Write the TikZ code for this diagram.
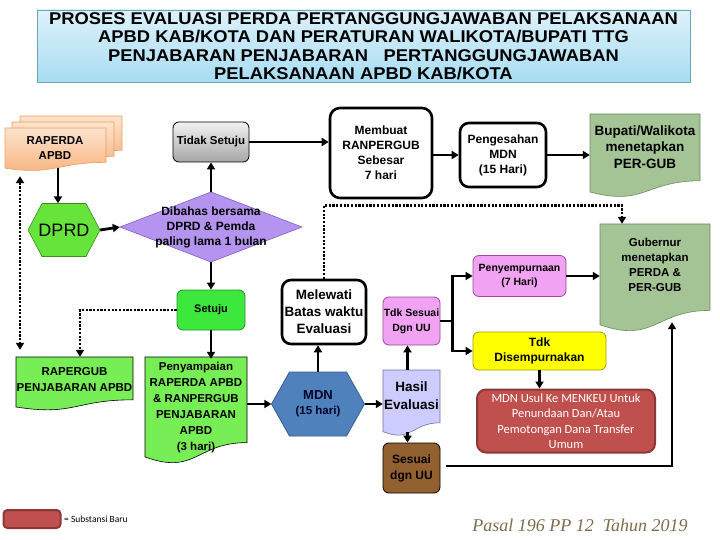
\documentclass[tikz,border=0pt]{standalone}
\usepackage{fontspec}
\setmainfont{Liberation Sans}
\newfontfamily\titlefont[FakeStretch=1.08]{Liberation Sans}
\newfontfamily\calib{Carlito}
\newfontfamily\serifit{Liberation Serif}
\usetikzlibrary{arrows.meta,calc}
\definecolor{titletop}{HTML}{DDF2FB}
\definecolor{titlebot}{HTML}{A8DCF2}
\definecolor{titleborder}{HTML}{6AA6B8}
\definecolor{peachA}{HTML}{FDE3CD}
\definecolor{peachB}{HTML}{F7B27C}
\definecolor{peachD}{HTML}{EE9E5E}
\definecolor{dprdgreen}{HTML}{66E43C}
\definecolor{dprdborder}{HTML}{3A8A20}
\definecolor{diafill}{HTML}{B494EE}
\definecolor{diaborder}{HTML}{7E5CC0}
\definecolor{greyA}{HTML}{F2F2F2}
\definecolor{greyB}{HTML}{A6A6A6}
\definecolor{setujugreen}{HTML}{3DE83D}
\definecolor{docgreen}{HTML}{77EE55}
\definecolor{greenborder}{HTML}{2A8A2A}
\definecolor{sage}{HTML}{A4C495}
\definecolor{sageborder}{HTML}{6E8A60}
\definecolor{mdnblue}{HTML}{4F81BD}
\definecolor{mdnborder}{HTML}{385D8A}
\definecolor{lav}{HTML}{CCCCFF}
\definecolor{lavborder}{HTML}{7070A0}
\definecolor{pinkv}{HTML}{F2A2F2}
\definecolor{pinkborder}{HTML}{9A4A9A}
\definecolor{yel}{HTML}{FFFF00}
\definecolor{yelborder}{HTML}{A0A000}
\definecolor{redfill}{HTML}{C0504D}
\definecolor{redborder}{HTML}{8C3836}
\definecolor{brown}{HTML}{93602F}
\definecolor{pasal}{HTML}{7D6B4D}
\newcommand\docshape[5]{%
  \path[#5] (#1,#2) -- (#3,#2) -- (#3,{#2+0.8*(#4-#2)})
    .. controls ({(#1+#3)/2},{#2+0.8*(#4-#2)}) and ({(#1+#3)/2},{#2+1.108*(#4-#2)})
    .. (#1,{#2+0.934*(#4-#2)}) -- cycle;}
\newcommand\hexshape[6]{%
  \path[#6] ({#1-#3/2},#2) -- ({#1-#3/2+#5},{#2-#4/2}) -- ({#1+#3/2-#5},{#2-#4/2})
    -- ({#1+#3/2},#2) -- ({#1+#3/2-#5},{#2+#4/2}) -- ({#1-#3/2+#5},{#2+#4/2}) -- cycle;}
\tikzset{
  arr/.style={line width=2.8pt, -{Triangle[length=7pt,width=8pt]}},
  dotarr/.style={line width=2.8pt, dash pattern=on 2.2pt off 1.5pt, -{Triangle[length=7pt,width=8pt]}},
  lbl/.style={align=center, inner sep=0pt, font=\bfseries\fontsize{12}{15}\selectfont},
  rbox/.style={lbl, draw, rounded corners=6pt, line width=0.8pt},
  thickbox/.style={lbl, draw, fill=white, rounded corners=10pt, line width=2.6pt},
}
\begin{document}
\begin{tikzpicture}[x=1pt,y=-1pt]
\useasboundingbox (0,0) rectangle (720,540);

% title
\node[draw=titleborder, top color=titletop, bottom color=titlebot, minimum width=653pt,
  minimum height=72pt, inner sep=0pt, align=center,
  font=\titlefont\bfseries\fontsize{17}{18.5}\selectfont] (title) at (363.5,46)
  {PROSES EVALUASI PERDA PERTANGGUNGJAWABAN PELAKSANAAN\\
   APBD KAB/KOTA DAN PERATURAN WALIKOTA/BUPATI TTG\\
   PENJABARAN PENJABARAN \ \ PERTANGGUNGJAWABAN\\
   PELAKSANAAN APBD KAB/KOTA};

% RAPERDA multi document
\docshape{20}{116}{122}{159}{draw=peachD, line width=0.6pt, top color=peachA, bottom color=peachB}
\docshape{12}{122}{114}{165}{draw=peachD, line width=0.6pt, top color=peachA, bottom color=peachB}
\docshape{5}{128}{106}{171}{draw=peachD, line width=0.6pt, top color=peachA, bottom color=peachB}
\node[lbl, font=\bfseries\fontsize{11.5}{15}\selectfont, minimum width=100pt, minimum height=40pt] (raperda) at (55,148) {RAPERDA\\APBD};

% DPRD hexagon
\hexshape{64}{230}{72}{53}{14}{fill=dprdgreen, draw=dprdborder, line width=0.6pt}
\node[inner sep=0pt, minimum width=72pt, minimum height=53pt, font=\fontsize{18}{20}\selectfont] (dprd) at (64,230) {DPRD};

% diamond
\path[fill=diafill, draw=diaborder, line width=0.6pt] (120,227) -- (211,192) -- (302,227) -- (211,262) -- cycle;
\node[lbl, minimum width=182pt, minimum height=70pt] (diam) at (211,227) {Dibahas bersama\\DPRD \& Pemda\\paling lama 1 bulan};

% Tidak Setuju
\node[rbox, top color=greyA, bottom color=greyB, minimum width=76pt, minimum height=40pt, font=\bfseries\fontsize{11.5}{14}\selectfont] (tidak) at (211,142) {Tidak Setuju};

% Membuat
\node[thickbox, minimum width=102pt, minimum height=90pt, font=\bfseries\fontsize{12}{15}\selectfont] (membuat) at (381,153) {Membuat\\RANPERGUB\\Sebesar\\7 hari};

% Pengesahan
\node[thickbox, rounded corners=9pt, minimum width=86pt, minimum height=64pt, font=\bfseries\fontsize{12}{15}\selectfont] (peng) at (503,155) {Pengesahan\\MDN\\(15 Hari)};

% Bupati
\docshape{590}{114}{700}{197.5}{fill=sage, draw=sageborder, line width=0.6pt}
\node[lbl, font=\bfseries\fontsize{13.5}{16.5}\selectfont, minimum width=110pt, minimum height=66pt] (bupati) at (645,147) {Bupati/Walikota\\menetapkan\\PER-GUB};

% Gubernur
\docshape{600}{224}{710}{332}{fill=sage, draw=sageborder, line width=0.6pt}
\node[lbl, font=\bfseries\fontsize{11.5}{15}\selectfont, minimum width=110pt, minimum height=82pt] (gub) at (655,265) {Gubernur\\menetapkan\\PERDA \&\\PER-GUB};

% Setuju
\node[rbox, fill=setujugreen, draw=greenborder, minimum width=68pt, minimum height=40pt, font=\bfseries\fontsize{11}{14}\selectfont] (setuju) at (211,310) {Setuju};

% RAPERGUB
\docshape{16}{357}{133}{410.5}{fill=docgreen, draw=black, line width=0.6pt}
\node[lbl, font=\bfseries\fontsize{11.5}{16}\selectfont, minimum width=117pt, minimum height=46pt] (rapergub) at (74.5,380) {RAPERGUB\\PENJABARAN APBD};

% Penyampaian
\docshape{145}{357}{247}{464}{fill=docgreen, draw=black, line width=0.6pt}
\node[lbl, font=\bfseries\fontsize{11.5}{16}\selectfont, minimum width=102pt, minimum height=98pt] (peny) at (196,408) {Penyampaian\\RAPERDA APBD\\\& RANPERGUB\\PENJABARAN\\APBD\\(3 hari)};

% MDN hexagon
\hexshape{318}{404}{93}{64}{18}{fill=mdnblue, draw=mdnborder, line width=0.8pt}
\node[lbl, minimum width=93pt, minimum height=64pt, text=black!85!blue] (mdn) at (318,404) {{\fontsize{13}{16}\selectfont MDN}\\{\fontsize{11.5}{15}\selectfont (15 hari)}};

% Melewati
\node[thickbox, rounded corners=9pt, minimum width=84pt, minimum height=64pt, font=\bfseries\fontsize{13.5}{17}\selectfont] (melewati) at (324,312) {Melewati\\Batas waktu\\Evaluasi};

% Hasil Evaluasi
\docshape{383}{370}{440}{436}{fill=lav, draw=lavborder, line width=0.6pt}
\node[lbl, font=\bfseries\fontsize{13.5}{18}\selectfont, minimum width=57pt, minimum height=52pt] (hasil) at (411.5,396) {Hasil\\Evaluasi};

% Tdk Sesuai
\node[rbox, fill=pinkv, draw=pinkborder, minimum width=57pt, minimum height=48pt, font=\bfseries\fontsize{10.5}{15}\selectfont] (tdks) at (411.5,321) {Tdk Sesuai\\Dgn UU};

% Penyempurnaan
\node[rbox, fill=pinkv, draw=pinkborder, minimum width=93pt, minimum height=41pt, font=\bfseries\fontsize{10.5}{14}\selectfont] (penyem) at (519.5,276) {Penyempurnaan\\(7 Hari)};

% Tdk Disempurnakan
\node[rbox, fill=yel, draw=yelborder, minimum width=133pt, minimum height=38pt, font=\bfseries\fontsize{12}{15}\selectfont] (tdkdis) at (539.5,351) {Tdk\\Disempurnakan};

% MDN Usul
\node[draw=redborder, fill=redfill, line width=2pt, rounded corners=9pt, minimum width=178pt, minimum height=63pt, inner sep=0pt, align=center, text=white, font=\calib\fontsize{12.5}{15.5}\selectfont] (usul) at (566,421) {MDN Usul Ke MENKEU Untuk\\Penundaan Dan/Atau\\Pemotongan Dana Transfer\\Umum};

% Sesuai dgn UU
\node[rbox, fill=brown, draw=black, minimum width=57pt, minimum height=50pt, font=\bfseries\fontsize{12}{16}\selectfont] (sesuai) at (411.5,468) {Sesuai\\dgn UU};

% legend
\node[draw=redborder, fill=redfill, line width=2pt, rounded corners=4pt, minimum width=57pt, minimum height=18pt, inner sep=0pt] (legend) at (32,519) {};
\node[anchor=west, inner sep=0pt, font=\calib\fontsize{9.5}{11}\selectfont] (legendtxt) at (64,519) {= Substansi Baru};

% source
\node[inner sep=0pt, text=pasal, font=\serifit\itshape\fontsize{18}{20}\selectfont] (pasal) at (580,525) {Pasal 196 PP 12 \ Tahun 2019};

% connectors
\draw[arr] ([xshift=3pt]raperda.south) -- ([xshift=3pt]raperda.south |- dprd.north);
\draw[dotarr, {Triangle[length=7pt,width=8pt]}-{Triangle[length=7pt,width=8pt]}, shorten <=8pt, shorten >=7pt]
  ([xshift=-35pt]raperda.south) -- ([xshift=-54.5pt]rapergub.north);
\draw[arr] (dprd.east) -- (diam.west);
\draw[arr] (diam.north) -- (tidak.south);
\draw[arr] (tidak.east) -- (tidak.east -| membuat.west);
\draw[arr] (peng.west -| membuat.east) -- (peng.west);
\draw[arr] (peng.east) -- (peng.east -| bupati.west);
\draw[arr] (diam.south) -- (setuju.north);
\draw[dotarr] (setuju.west) -| ([xshift=5.5pt]rapergub.north);
\draw[arr] (setuju.south) -- (setuju.south |- peny.north);
\draw[arr] (mdn.west -| peny.east) -- (mdn.west);
\draw[arr] (mdn.north) -- (mdn.north |- melewati.south);
\draw[dotarr] (melewati.north) -- ++(0,-73) -| ([xshift=-33pt]gub.north);
\draw[arr] (mdn.east) -- (mdn.east -| hasil.west);
\draw[arr] ([xshift=-4pt]hasil.north) -- ([xshift=-4pt]tdks.south);
\draw[arr] ([xshift=-4pt,yshift=-10pt]hasil.south) -- ([xshift=-4pt]sesuai.north);
\draw[line width=2.8pt] (tdks.east) -- ++(12,0) coordinate (br);
\draw[arr] ([yshift=-1.4pt]br) |- (penyem.west);
\draw[arr] ([yshift=1.4pt]br) |- (tdkdis.west);
\draw[arr] (penyem.east) -- (penyem.east -| gub.west);
\draw[arr] (tdkdis.south) -- (tdkdis.south |- usul.north);
\draw[arr] ([xshift=6pt,yshift=2pt]sesuai.east) -| ([xshift=17pt,yshift=-16pt]gub.south);
\end{tikzpicture}
\end{document}
